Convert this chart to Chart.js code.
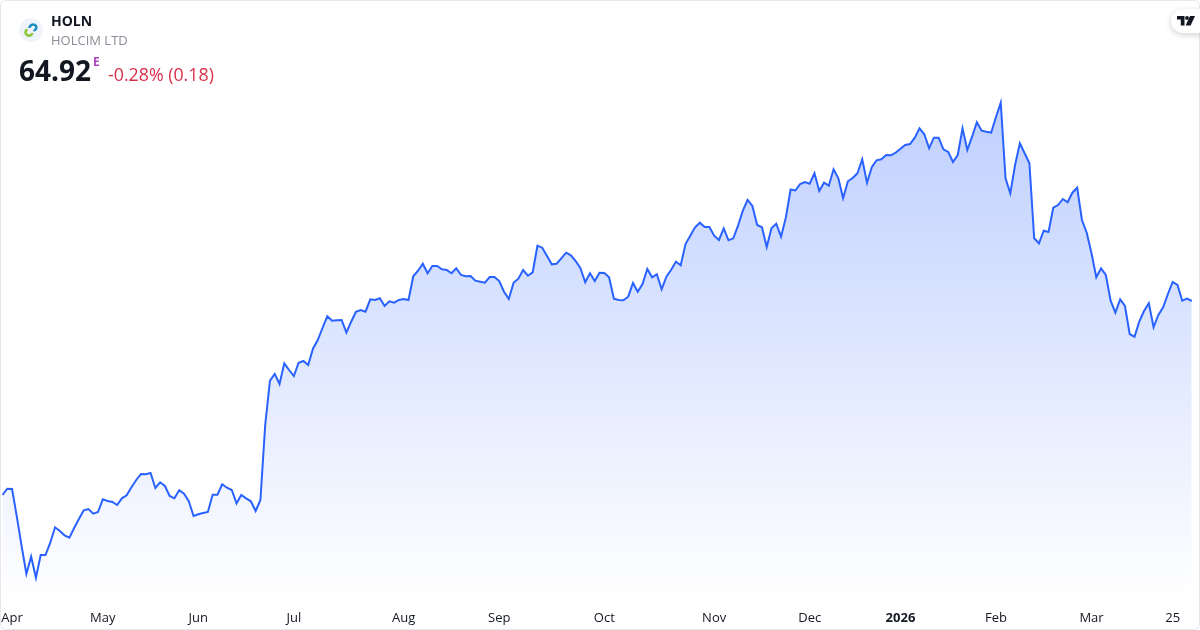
<!DOCTYPE html>
<html>
<head>
<meta charset="utf-8">
<title>HOLN</title>
<script src="https://cdn.jsdelivr.net/npm/chart.js@4"></script>
<style>
  html, body { margin: 0; padding: 0; background: #fff; }
  #card { position: relative; width: 1200px; height: 630px; overflow: hidden; font-family: "Open Sans", sans-serif; }
  #frame { position: absolute; inset: 0; border: 1px solid #e6e8ee; border-radius: 6px; box-sizing: border-box; pointer-events: none; }
  #pagesChart { position: absolute; left: 0; top: 0; }
  .txt { position: absolute; white-space: nowrap; line-height: 1; }
  #logo { position: absolute; left: 19px; top: 18px; }
  #tvBadge { position: absolute; left: 1171px; top: 9px; width: 40px; height: 24px; background: #fff; border-radius: 12px; box-shadow: 0 2px 6px rgba(0, 0, 0, 0.18); }
  #tvBadge svg { position: absolute; left: 6px; top: 6px; }
</style>
</head>
<body>
<div id="card">
  <canvas id="pagesChart" width="1200" height="630"></canvas>
  <div id="frame"></div>
  <svg id="logo" width="24" height="24" viewBox="0 0 24 24">
    <circle cx="12" cy="12" r="12" fill="#f0f3fa"/>
    <path d="M10.5 10 A3.6 3.6 0 0 1 17 8 A3 3 0 0 1 14.5 12.5" fill="none" stroke="#1d8fc4" stroke-width="2.6"/>
    <path d="M13.5 15 A3.6 3.6 0 0 1 7 16 A3 3 0 0 1 8.5 11.5" fill="none" stroke="#8cc63f" stroke-width="2.6"/>
  </svg>
  <div class="txt" style="left:51px;top:14px;font-size:14px;font-weight:700;color:#131722">HOLN</div>
  <div class="txt" style="left:51px;top:34px;font-size:13px;color:#8a8e99">HOLCIM LTD</div>
  <div class="txt" style="left:19px;top:56px;font-size:28px;font-weight:700;color:#131722">64.92</div>
  <div class="txt" style="left:93px;top:56px;font-size:12px;font-weight:700;color:#ab47bc">E</div>
  <div class="txt" style="left:108px;top:66px;font-size:17.8px;color:#d8304a">-0.28% (0.18)</div>
  <div id="tvBadge">
    <svg width="18" height="12" viewBox="0 0 18 12">
      <path d="M0 1 H7.5 V10.5 H3.8 V4.6 H0 Z" fill="#131722"/>
      <circle cx="10" cy="3" r="1.9" fill="#131722"/>
      <path d="M13 1 H18 L13.6 10.5 H8.6 Z" fill="#131722"/>
    </svg>
  </div>
</div>
<script>
  const tickLabels = { 2: "Apr", 21: "May", 41: "Jun", 61: "Jul", 84: "Aug", 104: "Sep", 126: "Oct", 149: "Nov", 169: "Dec", 188: "2026", 208: "Feb", 228: "Mar", 245: "25" };

  const closes = [
    45.52, 46.15, 46.12, 43.35, 40.42, 37.62, 39.35, 37.25, 39.52, 39.52,
    40.75, 42.29, 41.92, 41.49, 41.25, 42.22, 43.12, 43.99, 44.12, 43.65,
    43.82, 45.09, 44.92, 44.82, 44.52, 45.19, 45.49, 46.29, 47.02, 47.62,
    47.59, 47.72, 46.22, 46.79, 46.42, 45.42, 45.19, 45.99, 45.65, 44.89,
    43.42, 43.59, 43.72, 43.82, 45.55, 45.55, 46.59, 46.25, 46.02, 44.69,
    45.52, 45.19, 44.89, 43.92, 45.02, 52.52, 56.95, 57.62, 56.62, 58.69,
    58.02, 57.42, 58.75, 58.92, 58.52, 60.15, 61.02, 62.22, 63.39, 62.95,
    62.99, 63.02, 61.75, 62.85, 63.85, 64.02, 63.85, 65.09, 65.02, 65.19,
    64.42, 64.89, 64.75, 65.02, 65.12, 65.02, 67.39, 67.95, 68.65, 67.69,
    68.42, 68.42, 68.09, 68.02, 67.69, 68.19, 67.52, 67.39, 67.42, 66.95,
    66.85, 66.75, 67.32, 67.32, 66.92, 65.85, 65.12, 66.75, 67.15, 68.02,
    67.45, 67.79, 70.45, 70.25, 69.42, 68.59, 68.65, 69.19, 69.75, 69.49,
    68.92, 68.19, 66.79, 67.69, 66.92, 67.75, 67.72, 67.29, 65.15, 65.02,
    64.99, 65.35, 66.72, 65.85, 66.62, 68.12, 67.29, 67.59, 66.09, 67.35,
    68.05, 68.85, 68.49, 70.62, 71.45, 72.29, 72.75, 72.32, 72.32, 71.45,
    71.02, 72.19, 70.99, 71.19, 72.45, 73.95, 75.02, 74.42, 72.52, 72.29,
    70.32, 72.19, 72.65, 71.35, 73.25, 76.07, 75.97, 76.62, 76.82, 76.65,
    77.69, 75.92, 76.75, 76.45, 78.09, 77.19, 75.19, 76.89, 77.22, 77.69,
    79.09, 76.75, 78.29, 78.99, 79.09, 79.52, 79.49, 79.75, 80.15, 80.52,
    80.62, 81.25, 82.19, 81.59, 80.19, 81.25, 81.25, 80.09, 79.82, 78.82,
    79.52, 82.19, 80.02, 81.35, 82.79, 81.95, 81.85, 81.77, 83.32, 84.75,
    77.19, 75.69, 78.52, 80.69, 79.69, 78.69, 71.19, 70.69, 71.95, 71.82,
    74.25, 74.52, 75.12, 74.79, 75.75, 76.25, 73.02, 71.75, 69.69, 67.29,
    68.19, 67.52, 64.95, 63.75, 65.09, 64.42, 61.62, 61.35, 62.85, 63.92,
    64.69, 62.29, 63.52, 64.29, 65.62, 66.82, 66.52, 64.95, 65.15, 64.92,
  ];

  const axisMin = 35.02;
  const axisMax = 95.02;

  new Chart(document.getElementById("pagesChart"), {
    type: "line",
    data: {
      labels: closes.map((_, i) => tickLabels[i] || ""),
      datasets: [
        {
          data: closes,
          borderColor: "#2962ff",
          borderWidth: 2,
          pointRadius: 0,
          tension: 0,
          fill: "start",
          backgroundColor: areaGradient,
        },
      ],
    },
    options: {
      responsive: false,
      animation: false,
      layout: { autoPadding: false, padding: { left: 2.5, right: 8.2, top: 0, bottom: 0 } },
      plugins: {
        legend: { display: false },
        tooltip: { enabled: false },
      },
      scales: {
        x: {
          // ticks.padding would otherwise inset the plot on both sides
          afterFit: (scale) => {
            scale.height = 30;
            scale.paddingLeft = 0;
            scale.paddingRight = 0;
          },
          border: { display: false },
          grid: { display: false, drawTicks: false },
          ticks: {
            autoSkip: false,
            maxRotation: 0,
            minRotation: 0,
            padding: 10,
            color: "#131722",
            font: (ctx) => ({
              family: '"Open Sans", sans-serif',
              size: 13,
              weight: ctx.tick && ctx.tick.label === "2026" ? "bold" : "normal",
            }),
          },
        },
        y: {
          display: false,
          min: axisMin,
          max: axisMax,
        },
      },
    },
  });

  function areaGradient(ctx) {
    const area = ctx.chart.chartArea;
    if (!area) return "rgba(41, 98, 255, 0.25)";
    const grad = ctx.chart.ctx.createLinearGradient(0, 100, 0, area.bottom);
    grad.addColorStop(0, "rgba(41, 98, 255, 0.3)");
    grad.addColorStop(1, "rgba(41, 98, 255, 0)");
    return grad;
  }
</script>
</body>
</html>
